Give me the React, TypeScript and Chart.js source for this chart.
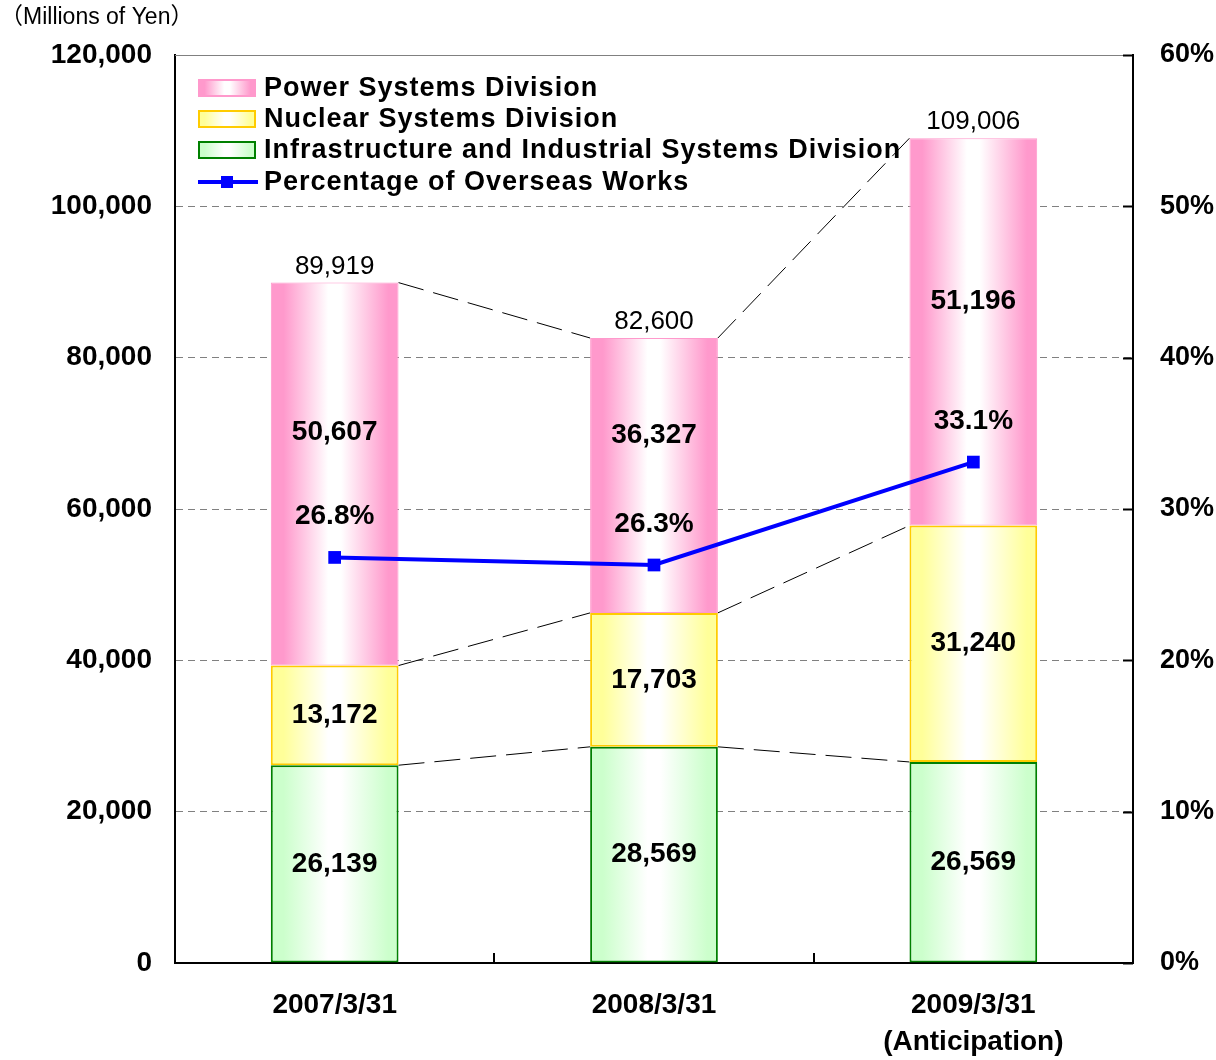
import React, { useEffect, useRef } from "react";
import { Chart, registerables } from "chart.js";

Chart.register(...registerables);

const categories: string[][] = [["2007/3/31"], ["2008/3/31"], ["2009/3/31", "(Anticipation)"]];
const infraValues = [26139, 28569, 26569];
const nuclearValues = [13172, 17703, 31240];
const powerValues = [50607, 36327, 51196];
const totalValues = [89919, 82600, 109006];
const overseasPct = [26.8, 26.3, 33.1];
const seriesNames = [
  "Power Systems Division",
  "Nuclear Systems Division",
  "Infrastructure and Industrial Systems Division",
  "Percentage of Overseas Works",
];
const leftTicks = { min: 0, max: 120000, step: 20000 };
const rightTicks = { min: 0, max: 60, step: 10 };

const FONT = "'Liberation Sans', Arial, sans-serif";
const PINK = "#FF99CC";
const YELLOW = "#FFFF99";
const GREEN = "#CCFFCC";
const pinkLabelShift = [-42, -40, -31];

function makeGrad(ctx: CanvasRenderingContext2D, l: number, r: number, edge: string) {
  const g = ctx.createLinearGradient(l, 0, r, 0);
  g.addColorStop(0, edge);
  g.addColorStop(0.1, edge);
  g.addColorStop(0.45, "#FFFFFF");
  g.addColorStop(0.55, "#FFFFFF");
  g.addColorStop(0.92, edge);
  g.addColorStop(1, edge);
  return g;
}

function barFill(edge: string) {
  return (c: any) => {
    const chart = c.chart;
    const area = chart.chartArea;
    if (!area || c.dataIndex === undefined || !chart.scales.x) return edge;
    const cx = chart.scales.x.getPixelForValue(c.dataIndex);
    const w = ((area.right - area.left) / categories.length) * 0.4;
    return makeGrad(chart.ctx, cx - w / 2, cx + w / 2, edge);
  };
}

const fmt = (v: number) => v.toLocaleString("en-US");

const overlayPlugin = {
  id: "overlay",
  beforeDatasetsDraw(chart: any) {
    const ctx = chart.ctx as CanvasRenderingContext2D;
    const area = chart.chartArea;
    ctx.save();
    ctx.strokeStyle = "#808080";
    ctx.lineWidth = 1;
    ctx.beginPath();
    ctx.moveTo(area.left, area.top + 0.5);
    ctx.lineTo(area.right, area.top + 0.5);
    ctx.stroke();
    ctx.strokeStyle = "#000000";
    ctx.lineWidth = 1;
    ctx.setLineDash([26, 10]);
    for (let d = 0; d < 3; d++) {
      const meta = chart.getDatasetMeta(d);
      for (let j = 0; j < meta.data.length - 1; j++) {
        const a = meta.data[j];
        const b = meta.data[j + 1];
        ctx.beginPath();
        ctx.moveTo(a.x + a.width / 2, a.y);
        ctx.lineTo(b.x - b.width / 2, b.y);
        ctx.stroke();
      }
    }
    ctx.restore();
  },
  afterDatasetsDraw(chart: any) {
    const ctx = chart.ctx as CanvasRenderingContext2D;
    const area = chart.chartArea;
    ctx.save();
    ctx.fillStyle = "#000";
    ctx.textAlign = "center";
    ctx.textBaseline = "middle";
    ctx.font = `bold 28px ${FONT}`;
    const values = [infraValues, nuclearValues, powerValues];
    for (let d = 0; d < 3; d++) {
      const meta = chart.getDatasetMeta(d);
      meta.data.forEach((el: any, j: number) => {
        let y = (el.y + el.base) / 2;
        if (d === 2) y += pinkLabelShift[j];
        ctx.fillText(fmt(values[d][j]), el.x, y);
      });
    }
    const top = chart.getDatasetMeta(2);
    ctx.font = `26px ${FONT}`;
    top.data.forEach((el: any, j: number) => {
      ctx.fillText(fmt(totalValues[j]), el.x, el.y - 16);
    });
    ctx.font = `bold 28px ${FONT}`;
    const lm = chart.getDatasetMeta(3);
    lm.data.forEach((el: any, j: number) => {
      ctx.fillText(overseasPct[j].toFixed(1) + "%", el.x, el.y - 41);
    });
    ctx.strokeStyle = "#000";
    ctx.lineWidth = 2;
    const cw = (area.right - area.left) / categories.length;
    for (let i = 1; i < categories.length; i++) {
      const x = Math.round(area.left + cw * i);
      ctx.beginPath();
      ctx.moveTo(x, area.bottom);
      ctx.lineTo(x, area.bottom - 10);
      ctx.stroke();
    }
    const y1 = chart.scales.y1;
    y1.ticks.forEach((t: any) => {
      const y = Math.round(y1.getPixelForValue(t.value)) + 0.5;
      ctx.beginPath();
      ctx.moveTo(area.right - 10, y);
      ctx.lineTo(area.right, y);
      ctx.stroke();
    });
    ctx.restore();
  },
  afterDraw(chart: any) {
    const ctx = chart.ctx as CanvasRenderingContext2D;
    ctx.save();
    ctx.fillStyle = "#000";
    ctx.textAlign = "left";
    ctx.textBaseline = "middle";
    ctx.font = `23px ${FONT}, 'Noto Sans CJK JP'`;
    ctx.fillText("（Millions of Yen）", 0, 18);
    const rows = [88, 119, 150, 182];
    const bx = 199;
    const bw = 56;
    const bh = 16;
    const fills = [PINK, YELLOW, GREEN];
    const borders = [PINK, "#FFCC00", "#008000"];
    for (let i = 0; i < 3; i++) {
      const y = rows[i] - bh / 2;
      ctx.fillStyle = makeGrad(ctx, bx, bx + bw, fills[i]);
      ctx.fillRect(bx, y, bw, bh);
      ctx.strokeStyle = borders[i];
      ctx.lineWidth = 2;
      ctx.strokeRect(bx, y, bw, bh);
    }
    ctx.strokeStyle = "#0000FF";
    ctx.lineWidth = 4;
    ctx.beginPath();
    ctx.moveTo(bx - 1, rows[3]);
    ctx.lineTo(bx + bw + 3, rows[3]);
    ctx.stroke();
    ctx.fillStyle = "#0000FF";
    ctx.fillRect(bx + 22, rows[3] - 6, 12, 12);
    ctx.fillStyle = "#000";
    ctx.font = `bold 27px ${FONT}`;
    try {
      (ctx as any).letterSpacing = "1px";
    } catch (e) {}
    seriesNames.forEach((n, i) => ctx.fillText(n, 264, rows[i] + 1));
    ctx.restore();
  },
};

export default function App() {
  const ref = useRef<HTMLCanvasElement | null>(null);
  useEffect(() => {
    if (!ref.current) return;
    Chart.defaults.font.family = FONT;
    const chart = new Chart(ref.current, {
      type: "bar",
      data: {
        labels: categories,
        datasets: [
          {
            label: seriesNames[2],
            data: infraValues,
            backgroundColor: barFill(GREEN),
            borderColor: "#008000",
            borderWidth: 2,
            borderSkipped: false,
            stack: "s",
            yAxisID: "y",
          },
          {
            label: seriesNames[1],
            data: nuclearValues,
            backgroundColor: barFill(YELLOW),
            borderColor: "#FFCC00",
            borderWidth: 2,
            borderSkipped: false,
            stack: "s",
            yAxisID: "y",
          },
          {
            label: seriesNames[0],
            data: powerValues,
            backgroundColor: barFill(PINK),
            borderColor: PINK,
            borderWidth: 1,
            borderSkipped: false,
            stack: "s",
            yAxisID: "y",
          },
          {
            type: "line",
            label: seriesNames[3],
            data: overseasPct,
            borderColor: "#0000FF",
            backgroundColor: "#0000FF",
            borderWidth: 4,
            pointStyle: "rect",
            pointRadius: 9,
            pointBorderWidth: 0,
            yAxisID: "y1",
            order: -1,
          } as any,
        ],
      },
      options: {
        responsive: false,
        animation: false,
        layout: { padding: { top: 55, left: 0, right: 0, bottom: 0 } },
        datasets: { bar: { categoryPercentage: 0.4, barPercentage: 1 } },
        plugins: { legend: { display: false }, tooltip: { enabled: false } },
        scales: {
          x: {
            type: "category",
            stacked: true,
            offset: true,
            grid: { display: false },
            border: { display: true, color: "#000", width: 2 },
            ticks: {
              color: "#000",
              font: { size: 28, weight: "bold", lineHeight: 37 / 28 },
              padding: 16,
              maxRotation: 0,
              autoSkip: false,
            },
            afterFit: (s: any) => {
              s.height = 97;
            },
          },
          y: {
            position: "left",
            stacked: true,
            min: leftTicks.min,
            max: leftTicks.max,
            grid: {
              color: (c: any) =>
                c.tick && (c.tick.value === leftTicks.min || c.tick.value === leftTicks.max)
                  ? "rgba(0,0,0,0)"
                  : "#808080",
              lineWidth: 1,
              drawTicks: false,
            },
            border: { display: true, color: "#000", width: 2, dash: [7, 5] },
            ticks: {
              stepSize: leftTicks.step,
              color: "#000",
              font: { size: 28, weight: "bold" },
              padding: 23,
              callback: (v: any) => fmt(Number(v)),
            },
            afterFit: (s: any) => {
              s.width = 175;
            },
          },
          y1: {
            position: "right",
            stacked: false,
            min: rightTicks.min,
            max: rightTicks.max,
            grid: { drawOnChartArea: false, drawTicks: false },
            border: { display: true, color: "#000", width: 2 },
            ticks: {
              stepSize: rightTicks.step,
              color: "#000",
              font: { size: 27, weight: "bold" },
              padding: 27,
              callback: (v: any) => v + "%",
            },
            afterFit: (s: any) => {
              s.width = 83;
            },
          },
        },
      } as any,
      plugins: [overlayPlugin],
    });
    return () => chart.destroy();
  }, []);
  return (
    <div style={{ position: "absolute", left: 0, top: 0, width: 1216, height: 1060, background: "#fff" }}>
      <canvas ref={ref} width={1216} height={1060} style={{ display: "block", width: 1216, height: 1060 }} />
    </div>
  );
}
